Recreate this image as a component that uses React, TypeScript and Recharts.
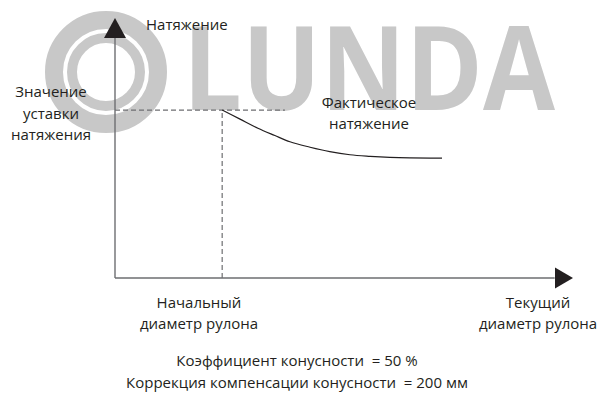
import React from 'react';
import { LineChart, Line, XAxis, YAxis, ReferenceLine, ReferenceDot } from 'recharts';

// roll diameter (0..100) vs tension (0..100)
const diameter = [23.4, 27.3, 31.2, 34.9, 38.2, 42.6, 46.9, 51.3, 55.7, 60.0, 64.4, 71.4];
const tension = [64.6, 61.1, 57.6, 54.8, 52.4, 50.3, 48.6, 47.4, 46.8, 46.4, 46.2, 46.1];

const setpoint = 64.6;
const startDiameter = 23.4;
const dashEnd = 37.1;

const yTitle = 'Натяжение';
const setpointLabel = ['Значение', 'уставки', 'натяжения'];
const curveLabel = ['Фактическое', 'натяжение'];
const startLabel = ['Начальный', 'диаметр рулона'];
const xTitle = ['Текущий', 'диаметр рулона'];
const notes = ['Коэффициент конусности  = 50 %', 'Коррекция компенсации конусности  = 200 мм'];

const data = diameter.map((d, i) => ({ d, t: tension[i] }));

const INK = '#231f20';
const AXIS = '#6d6e71';
const FONT = '"Open Sans", sans-serif';
const MARK = '#c8c8c8';

const UpArrow = (props: any) => {
  const { cx, cy } = props;
  return <polygon points={`${cx},${cy} ${cx - 11},${cy + 20} ${cx + 11},${cy + 20}`} fill={INK} />;
};

const RightArrow = (props: any) => {
  const { cx, cy } = props;
  return <polygon points={`${cx},${cy} ${cx - 18},${cy - 10.5} ${cx - 18},${cy + 10.5}`} fill={INK} />;
};

const txt: React.CSSProperties = { fontFamily: FONT, fontSize: 15, fill: INK, whiteSpace: 'pre' };

const App: React.FC = () => {
  return (
    <div style={{ position: 'absolute', left: 0, top: 0, width: 604, height: 396, background: '#fff' }}>
      {/* watermark */}
      <svg width={604} height={396} style={{ position: 'absolute', left: 0, top: 0 }}>
        <circle cx={106} cy={72} r={52} fill="none" stroke={MARK} strokeWidth={18} />
        <circle cx={106} cy={72} r={34} fill="none" stroke={MARK} strokeWidth={10} />
        <text x={183} y={110} textLength={372} lengthAdjust="spacingAndGlyphs"
          style={{ fontFamily: FONT, fontWeight: 700, fontSize: 116, fill: MARK }}>LUNDA</text>
      </svg>
      <div style={{ position: 'absolute', left: 0, top: 0 }}>
        <LineChart width={604} height={396} data={data}
          margin={{ top: 18, right: 31, bottom: 118, left: 115 }}>
          <XAxis dataKey="d" type="number" domain={[0, 100]} hide />
          <YAxis type="number" domain={[0, 100]} hide />
          <ReferenceLine segment={[{ x: 0, y: 0 }, { x: 96, y: 0 }]} stroke={AXIS} strokeWidth={1.4} />
          <ReferenceLine segment={[{ x: 0, y: 0 }, { x: 0, y: 93 }]} stroke={AXIS} strokeWidth={1.4} />
          <ReferenceLine segment={[{ x: 0, y: setpoint }, { x: dashEnd, y: setpoint }]}
            stroke={AXIS} strokeWidth={1.2} strokeDasharray="5 3" />
          <ReferenceLine segment={[{ x: startDiameter, y: 0 }, { x: startDiameter, y: setpoint }]}
            stroke={AXIS} strokeWidth={1.2} strokeDasharray="5 3" />
          <Line dataKey="t" type="monotone" stroke={INK} strokeWidth={1.2} dot={false}
            isAnimationActive={false} />
          <ReferenceDot x={0} y={100} r={0} shape={UpArrow} />
          <ReferenceDot x={100} y={0} r={0} shape={RightArrow} />

          <text x={146} y={30} style={txt}>{yTitle}</text>
          {setpointLabel.map((s, i) => (
            <text key={s} x={51} y={97 + i * 21.5} textAnchor="middle" style={txt}>{s}</text>
          ))}
          {curveLabel.map((s, i) => (
            <text key={s} x={369} y={108 + i * 20.5} textAnchor="middle" style={txt}>{s}</text>
          ))}
          {startLabel.map((s, i) => (
            <text key={s} x={199} y={308 + i * 20.5} textAnchor="middle" style={txt}>{s}</text>
          ))}
          {xTitle.map((s, i) => (
            <text key={s} x={538} y={308 + i * 20.5} textAnchor="middle" style={txt}>{s}</text>
          ))}
          {notes.map((s, i) => (
            <text key={s} x={297} y={366 + i * 22} textAnchor="middle" style={txt}>{s}</text>
          ))}
        </LineChart>
      </div>
    </div>
  );
};

export default App;
